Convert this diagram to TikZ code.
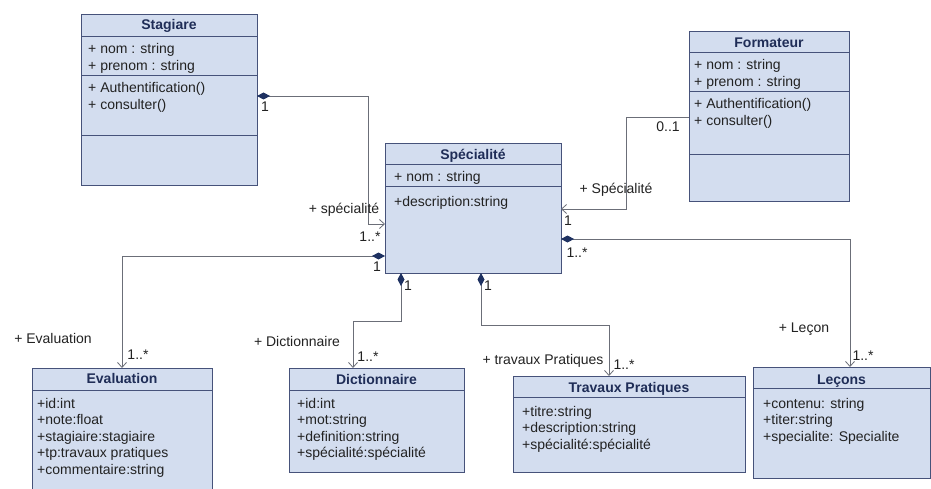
\documentclass[tikz,border=0pt]{standalone}
\usepackage{fontspec}
\setmainfont{Liberation Sans}
\usetikzlibrary{arrows.meta,calc}

\definecolor{boxfill}{HTML}{D3DDEF}
\definecolor{boxline}{HTML}{46527A}
\definecolor{titletext}{HTML}{1F2D57}
\definecolor{bodytext}{HTML}{222222}
\definecolor{linkline}{HTML}{6B6E78}
\definecolor{diamondfill}{HTML}{1E3161}

\tikzset{
  classbox/.style={draw=boxline, fill=boxfill, line width=1pt, rectangle,
    inner sep=0pt, outer sep=0pt, anchor=north west},
  classtitle/.style={font=\fontsize{14}{16}\selectfont\bfseries, text=titletext,
    anchor=base, inner sep=0pt},
  member/.style={font=\fontsize{14}{16}\selectfont, text=bodytext,
    anchor=base west, inner sep=0pt},
  role/.style={font=\fontsize{14}{16}\selectfont, text=bodytext, inner sep=0pt},
  compsep/.style={draw=boxline, line width=1pt},
  link/.style={draw=linkline, line width=0.8pt},
  comp/.style={link, {Diamond[length=13pt,width=7pt,fill=diamondfill,color=diamondfill]}-{Straight Barb[length=5pt,width=9pt]}},
  nav/.style={link, -{Straight Barb[length=5pt,width=9pt]}},
}

% rows of members, one node per line
\newcommand\umlmembers[4]{%
  \foreach \m [count=\k] in {#4}
    \node[member] (#1-\k) at (#2,{#3+16.5*(\k-1)}) {\m};}
% horizontal compartment line, offset from the top of a class
\newcommand\umlsep[2]{%
  \draw[compsep] ($(#1.north west)+(0,#2)$) -- ($(#1.north east)+(0,#2)$);}

\begin{document}
\begin{tikzpicture}[x=1pt,y=-1pt]
\path[use as bounding box, fill=white] (0,0) rectangle (931,489);
\clip (0,0) rectangle (931,489);

% ---------- classes ----------
\node[classbox, minimum width=176, minimum height=171] (stag) at (81,15) {};
\node[classtitle] (stag-t) at (169,30) {Stagiare};
\umlsep{stag}{22}\umlsep{stag}{61}\umlsep{stag}{121}
\umlmembers{stag-a}{88}{54}{{+ nom : string},{+ prenom : string}}
\umlmembers{stag-m}{88}{93}{{+ Authentification()},{+ consulter()}}

\node[classbox, minimum width=160, minimum height=170] (form) at (689,32) {};
\node[classtitle] (form-t) at (769,48) {Formateur};
\umlsep{form}{21}\umlsep{form}{60}\umlsep{form}{123}
\umlmembers{form-a}{694}{70}{{+ nom : string},{+ prenom : string}}
\umlmembers{form-m}{694}{109}{{+ Authentification()},{+ consulter()}}

\node[classbox, minimum width=176, minimum height=129] (spec) at (385,144) {};
\node[classtitle] (spec-t) at (473,160) {Spécialité};
\umlsep{spec}{21}\umlsep{spec}{43}
\umlmembers{spec-a}{394}{182}{{+ nom : string}}
\umlmembers{spec-m}{394}{206}{{+description:string}}

\node[classbox, minimum width=180, minimum height=140] (eval) at (32,368) {};
\node[classtitle] (eval-t) at (122,383) {Evaluation};
\umlsep{eval}{22}
\umlmembers{eval-a}{37}{408}{{+id:int},{+note:float},{+stagiaire:stagiaire},{+tp:travaux pratiques},{+commentaire:string}}

\node[classbox, minimum width=175, minimum height=104] (dict) at (289,368) {};
\node[classtitle] (dict-t) at (376.5,384) {Dictionnaire};
\umlsep{dict}{22}
\umlmembers{dict-a}{297}{408}{{+id:int},{+mot:string},{+definition:string},{+spécialité:spécialité}}

\node[classbox, minimum width=232, minimum height=96] (tp) at (513,376) {};
\node[classtitle] (tp-t) at (629,392) {Travaux Pratiques};
\umlsep{tp}{21}
\umlmembers{tp-a}{522}{416}{{+titre:string},{+description:string},{+spécialité:spécialité}}

\node[classbox, minimum width=177, minimum height=111] (lec) at (753,367) {};
\node[classtitle] (lec-t) at (841.5,384) {Leçons};
\umlsep{lec}{21}
\umlmembers{lec-a}{763}{408}{{+contenu: string},{+titer:string},{+specialite: Specialite}}

% ---------- associations ----------
\draw[comp] ($(stag.north east)+(0,81)$) -| (368,224) -- ($(spec.north west)+(0,80)$);
\draw[nav] ($(form.north west)+(0,85)$) -| (626,209) -- ($(spec.north east)+(0,65)$);
\draw[comp] ($(spec.north west)+(0,112)$) -| (eval.north);
\draw[comp] ($(spec.south west)+(16,0)$) |- (353,321) -- ($(dict.north west)+(64,0)$);
\draw[comp] ($(spec.south west)+(96,0)$) |- (609,325) -- ($(tp.north west)+(96,0)$);
\draw[comp] ($(spec.north east)+(0,95)$) -| ($(lec.north west)+(97,0)$);

% ---------- roles and multiplicities ----------
\node[role] (r1a) at (265,107) {1};
\node[role] (r1b) at (344,210) {+ spécialité};
\node[role] (r1c) at (370,237) {1..*};
\node[role] (r2a) at (668,127) {0..1};
\node[role] (r2b) at (616,190) {+ Spécialité};
\node[role] (r2c) at (568,221) {1};
\node[role] (r3a) at (377,267) {1};
\node[role] (r3b) at (53,338) {+ Evaluation};
\node[role] (r3c) at (138,355) {1..*};
\node[role] (r4a) at (408,286) {1};
\node[role] (r4b) at (297,341) {+ Dictionnaire};
\node[role] (r4c) at (368,357) {1..*};
\node[role] (r5a) at (488,286) {1};
\node[role] (r5b) at (543,361) {+ travaux Pratiques};
\node[role] (r5c) at (624,365) {1..*};
\node[role] (r6a) at (577,253) {1..*};
\node[role] (r6b) at (804,329) {+ Leçon};
\node[role] (r6c) at (863,356) {1..*};
\end{tikzpicture}
\end{document}
